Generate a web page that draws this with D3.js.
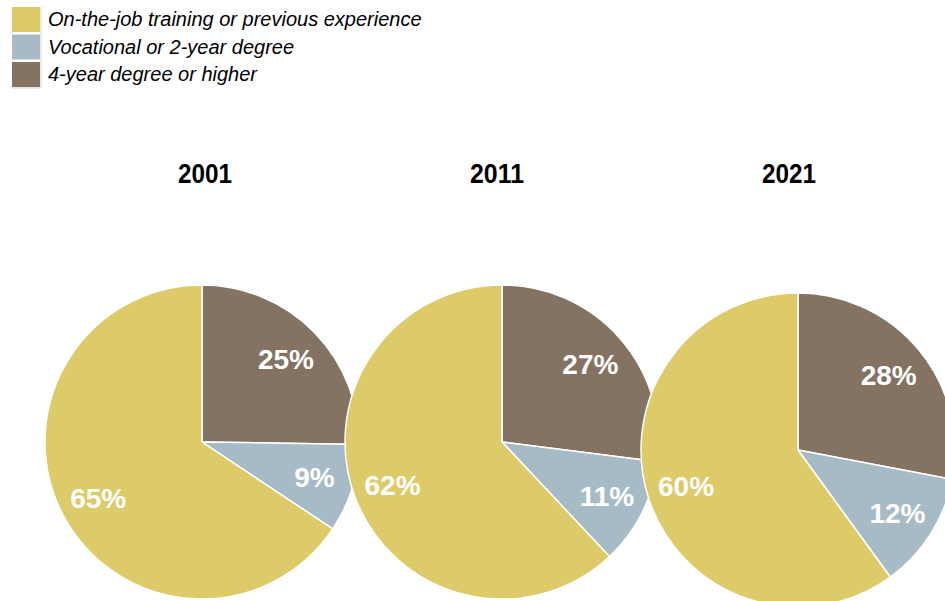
<!DOCTYPE html>
<html>
<head>
<meta charset="utf-8">
<script src="https://cdn.jsdelivr.net/npm/d3@7"></script>
<style>
  body { margin: 0; background: #fff; }
  svg { display: block; font-family: "Liberation Sans", Arial, sans-serif; }
</style>
</head>
<body>
<svg id="chart"></svg>
<script>
// categories, in the order they are drawn clockwise from 12 o'clock
let categories = ["4-year degree or higher", "Vocational or 2-year degree", "On-the-job training or previous experience"];
let legendOrder = ["On-the-job training or previous experience", "Vocational or 2-year degree", "4-year degree or higher"];
let colors = ["#847362", "#a7bbc6", "#ddca69"];

let years = ["2001", "2011", "2021"];
let values2001 = [25, 9, 65];
let values2011 = [27, 11, 62];
let values2021 = [28, 12, 60];
let valuesByYear = [values2001, values2011, values2021];

let config = {
  'svg': {},
  'pie': {},
  'legend': {}
};

config.svg.width = 945;
config.svg.height = 601;

config.pie.radius = 157;
config.pie.centers = [[202, 442], [502, 442], [798, 450]];
config.pie.titleX = [205, 497, 789];
config.pie.titleY = 183;
config.pie.labelRadius = 0.75;

config.legend.x = 12;
config.legend.y = 7;
config.legend.box = 28;
config.legend.boxHeight = 25;
config.legend.step = 27.5;

let svg = d3.select("svg#chart")
  .attr("width", config.svg.width)
  .attr("height", config.svg.height);

let color = d3.scaleOrdinal()
  .domain(categories)
  .range(colors);

let pie = d3.pie()
  .sort(null)
  .value(d => d.value);

let arc = d3.arc()
  .innerRadius(0)
  .outerRadius(config.pie.radius);

let labelArc = d3.arc()
  .innerRadius(config.pie.radius * config.pie.labelRadius)
  .outerRadius(config.pie.radius * config.pie.labelRadius);

years.forEach(function(year, i) {
  let data = categories.map((c, j) => ({ category: c, value: valuesByYear[i][j] }));
  let c = config.pie.centers[i];

  let g = svg.append("g")
    .attr("class", "pie")
    .attr("transform", translate(c[0], c[1]));

  g.selectAll("path")
    .data(pie(data))
    .enter()
    .append("path")
    .attr("d", arc)
    .attr("fill", d => color(d.data.category))
    .attr("stroke", "#fff")
    .attr("stroke-width", 1.5)
    .attr("stroke-linejoin", "round");

  g.selectAll("text")
    .data(pie(data))
    .enter()
    .append("text")
    .attr("transform", d => translate(labelArc.centroid(d)[0], labelArc.centroid(d)[1]))
    .attr("text-anchor", "middle")
    .attr("dy", "0.36em")
    .attr("fill", "#fff")
    .attr("font-size", "28px")
    .attr("font-weight", "bold")
    .text(d => d.data.value + "%");

  svg.append("text")
    .attr("x", config.pie.titleX[i])
    .attr("y", config.pie.titleY)
    .attr("text-anchor", "middle")
    .attr("font-size", "28px")
    .attr("font-weight", "bold")
    .attr("textLength", 54)
    .attr("lengthAdjust", "spacingAndGlyphs")
    .attr("fill", "#000")
    .text(year);
});

drawLegend();

function drawLegend() {
  let legend = svg.append("g")
    .attr("id", "legend")
    .attr("transform", translate(config.legend.x, config.legend.y));

  let total = config.legend.step * 2 + config.legend.boxHeight;

  // faint frame line to the right and below the swatches
  legend.append("path")
    .attr("d", "M" + (config.legend.box + 1) + ",0V" + (total + 1) + "H0")
    .attr("fill", "none")
    .attr("stroke", "#d9d6cc")
    .attr("stroke-width", 1);

  let rows = legend.selectAll("g.row")
    .data(legendOrder)
    .enter()
    .append("g")
    .attr("class", "row")
    .attr("transform", (d, i) => translate(0, i * config.legend.step));

  rows.append("rect")
    .attr("width", config.legend.box)
    .attr("height", config.legend.boxHeight)
    .attr("fill", d => color(d));

  rows.append("text")
    .attr("x", config.legend.box + 8)
    .attr("y", 19)
    .attr("font-size", "20px")
    .attr("font-style", "italic")
    .attr("fill", "#000")
    .text(d => d);
}

function translate(x, y) {
  return 'translate(' + x + ',' + y + ')';
}
</script>
</body>
</html>
